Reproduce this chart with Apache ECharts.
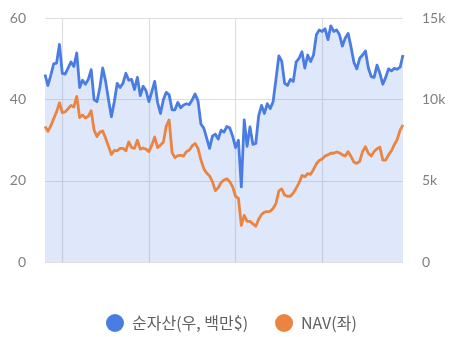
<!DOCTYPE html>
<html>
<head>
<meta charset="utf-8">
<script src="https://cdn.jsdelivr.net/npm/echarts@6/dist/echarts.min.js"></script>
<style>
  html, body { margin: 0; padding: 0; background: #ffffff; }
  #chart { width: 450px; height: 337px; }
</style>
</head>
<body>
<div id="chart"></div>
<script>
// Net assets (millions of $, right axis) per period
const netAssets = [
  11550, 10875, 11500, 12200, 12250, 13400, 11625, 11575, 11950, 12325,
  12050, 12875, 10750, 11200, 10950, 11250, 11850, 10000, 9875, 10750,
  11950, 11125, 10000, 8950, 9875, 11000, 10750, 11000, 11625, 11200,
  11250, 10625, 11375, 10250, 10825, 10550, 9875, 10500, 11125, 9825,
  9150, 10000, 10450, 10300, 9375, 9375, 9825, 9500, 9675, 9750,
  9700, 10000, 10350, 9925, 8500, 8250, 7625, 7000, 7750, 7875,
  7575, 8125, 8000, 8350, 8250, 7750, 7050, 7500, 4625, 8750,
  7125, 8325, 7250, 7300, 9000, 9650, 9150, 9750, 9450, 9875,
  11250, 12700, 12375, 11000, 10875, 11250, 11125, 12325, 12550, 12950,
  11950, 12750, 12350, 12750, 14000, 14300, 14200, 14375, 13700, 14550,
  14200, 14300, 14000, 13300, 13800, 14075, 13250, 12300, 11900, 12550,
  12750, 13000, 11950, 11425, 11375, 12125, 11625, 10950, 11375, 11900,
  11775, 11925, 11875, 12000, 12750
];

// NAV per period (left axis)
const nav = [
  33.4, 32.2, 33.5, 35.3, 37.0, 39.2, 36.8, 37.0, 37.8, 38.6,
  38.2, 40.8, 35.6, 36.2, 35.5, 35.9, 37.3, 32.5, 30.9, 32.0,
  32.3, 30.5, 28.5, 26.5, 27.5, 27.4, 28.0, 28.0, 27.4, 29.6,
  28.2, 28.0, 30.0, 27.8, 28.1, 27.8, 27.2, 28.8, 30.8, 28.2,
  28.8, 29.5, 33.5, 35.0, 27.0, 25.7, 26.2, 26.3, 26.1, 27.2,
  27.6, 28.6, 29.2, 28.0, 25.2, 23.0, 21.9, 21.2, 19.8, 17.6,
  18.3, 19.6, 20.2, 20.5, 19.8, 18.5, 16.2, 15.7, 9.0, 11.5,
  10.0, 10.0, 9.4, 8.8, 10.5, 11.7, 12.3, 12.4, 12.5, 13.2,
  14.4, 17.5, 18.0, 16.5, 16.2, 16.2, 17.0, 18.2, 19.5, 21.3,
  21.0, 21.8, 21.6, 22.8, 24.2, 25.0, 25.4, 26.1, 26.4, 26.8,
  26.8, 27.1, 26.9, 26.4, 26.1, 27.2, 26.0, 24.6, 24.3, 24.8,
  27.2, 28.4, 26.8, 26.1, 27.2, 27.9, 28.3, 25.1, 25.1, 26.4,
  27.4, 28.9, 30.2, 32.5, 33.8
];

// Period labels (one per data point; not displayed)
const periods = netAssets.map((_, i) => 'P' + (i + 1));

const seriesNames = ['순자산(우, 백만$)', 'NAV(좌)'];
const navTicks = { min: 0, max: 60, interval: 20 };
const assetTicks = { min: 0, max: 15000, interval: 5000 };
// first period of each year and the number of periods per year
const yearStart = 6, periodsPerYear = 30;

const FONT = 'Lato, "Noto Sans CJK KR", "Noto Sans", sans-serif';
const LEGEND_FONT = '"Noto Sans CJK KR", "Noto Sans", sans-serif';
const BLUE = '#4a7de3';
const ORANGE = '#ea8440';

const chart = echarts.init(document.getElementById('chart'), null, { renderer: 'canvas' });

chart.setOption({
  animation: false,
  backgroundColor: '#ffffff',
  grid: { left: 45, right: 47, top: 18.5, bottom: 75, containLabel: false },
  legend: {
    data: seriesNames,
    top: 309,
    left: 101,
    icon: 'circle',
    itemWidth: 18,
    itemHeight: 18,
    itemGap: 27,
    textStyle: { fontFamily: LEGEND_FONT, fontSize: 16, color: '#606060', padding: [0, 0, 0, 3] }
  },
  xAxis: {
    type: 'category',
    data: periods,
    boundaryGap: false,
    axisLine: { show: false },
    axisTick: { show: false },
    axisLabel: { show: false },
    splitLine: {
      show: true,
      interval: (idx) => idx >= yearStart && (idx - yearStart) % periodsPerYear === 0,
      lineStyle: { color: '#dedede', width: 1.2 }
    }
  },
  yAxis: [
    {
      type: 'value',
      min: navTicks.min, max: navTicks.max, interval: navTicks.interval,
      axisLine: { show: false },
      axisTick: { show: false },
      axisLabel: { fontFamily: FONT, fontSize: 14, color: '#808080', margin: 19 },
      splitLine: { show: true, lineStyle: { color: '#dedede', width: 1.2 } }
    },
    {
      type: 'value',
      position: 'right',
      min: assetTicks.min, max: assetTicks.max, interval: assetTicks.interval,
      axisLine: { show: false },
      axisTick: { show: false },
      axisLabel: {
        fontFamily: FONT, fontSize: 14, color: '#808080', margin: 19,
        formatter: (v) => (v === 0 ? '0' : (v / 1000) + 'k')
      },
      splitLine: { show: false }
    }
  ],
  series: [
    {
      name: seriesNames[0],
      type: 'line',
      yAxisIndex: 1,
      data: netAssets,
      showSymbol: false,
      symbol: 'none',
      lineStyle: { color: BLUE, width: 2.8, join: 'round' },
      itemStyle: { color: BLUE },
      areaStyle: { color: 'rgba(76,127,230,0.26)', origin: 'start' },
      z: 2
    },
    {
      name: seriesNames[1],
      type: 'line',
      yAxisIndex: 0,
      data: nav,
      showSymbol: false,
      symbol: 'none',
      lineStyle: { color: ORANGE, width: 2.8, join: 'round' },
      itemStyle: { color: ORANGE },
      z: 3
    }
  ]
});
</script>
</body>
</html>
